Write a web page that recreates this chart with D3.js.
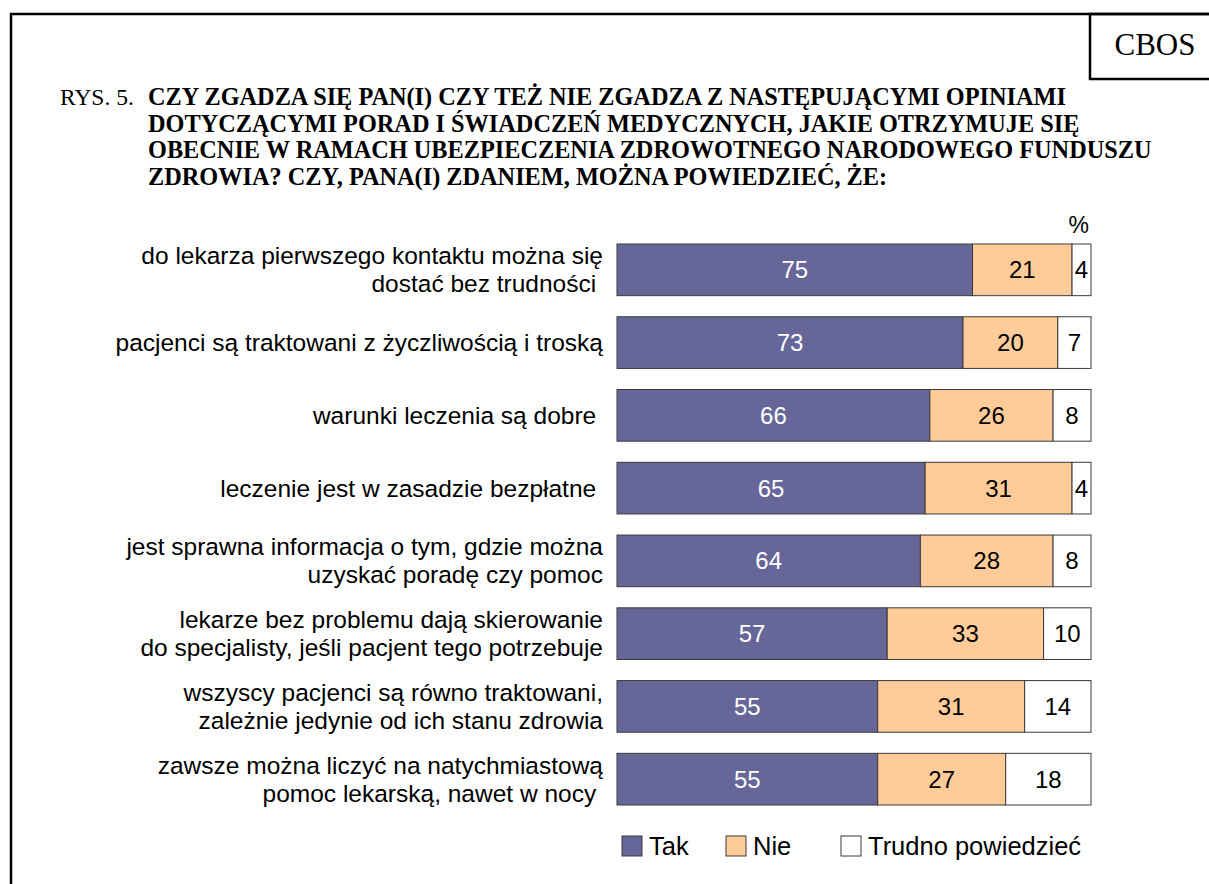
<!DOCTYPE html>
<html>
<head>
<meta charset="utf-8">
<title>CBOS Rys. 5</title>
<script src="https://cdn.jsdelivr.net/npm/d3@7"></script>
<style>
  body { margin: 0; background: #fff; }
  text { white-space: pre; }
</style>
</head>
<body>
<svg id="svg"></svg>
<script>
var WIDTH = 1209, HEIGHT = 884;

// data
var statements = [
  ["do lekarza pierwszego kontaktu można się", "dostać bez trudności "],
  ["pacjenci są traktowani z życzliwością i troską"],
  ["warunki leczenia są dobre "],
  ["leczenie jest w zasadzie bezpłatne "],
  ["jest sprawna informacja o tym, gdzie można", "uzyskać poradę czy pomoc"],
  ["lekarze bez problemu dają skierowanie", "do specjalisty, jeśli pacjent tego potrzebuje"],
  ["wszyscy pacjenci są równo traktowani,", "zależnie jedynie od ich stanu zdrowia"],
  ["zawsze można liczyć na natychmiastową", "pomoc lekarską, nawet w nocy "]
];
var tak = [75, 73, 66, 65, 64, 57, 55, 55];
var nie = [21, 20, 26, 31, 28, 33, 31, 27];
var trudno = [4, 7, 8, 4, 8, 10, 14, 18];
var seriesNames = ["Tak", "Nie", "Trudno powiedzieć"];
var seriesColors = ["#666699", "#FFCC99", "#FFFFFF"];
var labelColors = ["#FFFFFF", "#000000", "#000000"];

var titleNo = "RYS. 5.";
var titleLines = [
  "CZY ZGADZA SIĘ PAN(I) CZY TEŻ NIE ZGADZA Z NASTĘPUJĄCYMI OPINIAMI",
  "DOTYCZĄCYMI PORAD I ŚWIADCZEŃ MEDYCZNYCH, JAKIE OTRZYMUJE SIĘ",
  "OBECNIE W RAMACH UBEZPIECZENIA ZDROWOTNEGO NARODOWEGO FUNDUSZU",
  "ZDROWIA? CZY, PANA(I) ZDANIEM, MOŻNA POWIEDZIEĆ, ŻE:"
];

var SERIF = "Liberation Serif, Times New Roman, serif";
var SANS = "Liberation Sans, Arial, sans-serif";

var svg = d3.select("#svg").attr("width", WIDTH).attr("height", HEIGHT);

// frame (cut at right/bottom like the scan)
svg.append("rect").attr("x", 11).attr("y", 14).attr("width", 1300).attr("height", 1000)
   .attr("fill", "none").attr("stroke", "#000").attr("stroke-width", 2.5);
svg.append("rect").attr("x", 1090).attr("y", 14).attr("width", 200).attr("height", 65)
   .attr("fill", "none").attr("stroke", "#000").attr("stroke-width", 2.5);
svg.append("text").attr("x", 1155).attr("y", 55).attr("text-anchor", "middle")
   .attr("font-family", SERIF).attr("font-size", 31)
   .text("CBOS");

// title
svg.append("text").attr("x", 60).attr("y", 105)
   .attr("font-family", SERIF).attr("font-size", 23.5)
   .text(titleNo);
svg.append("g").selectAll("text").data(titleLines).enter().append("text")
   .attr("x", 148).attr("y", function(d, i){ return 105 + i * 26.5; })
   .attr("font-family", SERIF).attr("font-size", 24.3)
   .attr("font-weight", "bold")
   .text(function(d){ return d; });

// scales
var idx = d3.range(statements.length);
var xScale = d3.scaleLinear().domain([0, 100]).range([617, 1091]);
var yScale = d3.scaleBand().domain(idx).range([244, 805]).paddingInner(0.29).paddingOuter(0);

var rows = idx.map(function(i){
  var vals = [tak[i], nie[i], trudno[i]];
  var acc = 0;
  return vals.map(function(v, s){
    var seg = { row: i, s: s, v: v, x0: acc, x1: acc + v };
    acc += v;
    return seg;
  });
});

var g = svg.append("g");
var row = g.selectAll("g.row").data(rows).enter().append("g").attr("class", "row");

row.selectAll("rect").data(function(d){ return d; }).enter().append("rect")
   .attr("x", function(d){ return xScale(d.x0); })
   .attr("y", function(d){ return yScale(d.row); })
   .attr("width", function(d){ return xScale(d.x1) - xScale(d.x0); })
   .attr("height", yScale.bandwidth())
   .attr("fill", function(d){ return seriesColors[d.s]; })
   .attr("stroke", "#3a3a3a").attr("stroke-width", 1);

row.selectAll("text").data(function(d){ return d; }).enter().append("text")
   .attr("x", function(d){ return (xScale(d.x0) + xScale(d.x1)) / 2; })
   .attr("y", function(d){ return yScale(d.row) + yScale.bandwidth() / 2 + 8.5; })
   .attr("text-anchor", "middle")
   .attr("font-family", SANS).attr("font-size", 24)
   .attr("fill", function(d){ return labelColors[d.s]; })
   .text(function(d){ return d.v; });

// category labels
var lab = g.selectAll("text.cat").data(statements).enter().append("text")
   .attr("class", "cat")
   .attr("font-family", SANS).attr("font-size", 24.5)
   .attr("text-anchor", "end");
lab.selectAll("tspan").data(function(d, i){
     return d.map(function(t, k){ return { t: t, k: k, n: d.length, i: i }; });
   }).enter().append("tspan")
   .attr("x", 603)
   .attr("y", function(d){
     var c = yScale(d.i) + yScale.bandwidth() / 2 + 8.5;
     return c + (d.k - (d.n - 1) / 2) * 28;
   })
   .text(function(d){ return d.t; });

// percent sign
svg.append("text").attr("x", 1089).attr("y", 233).attr("text-anchor", "end")
   .attr("font-family", SANS).attr("font-size", 23)
   .text("%");

// legend
var legendX = [622, 726, 841];
var leg = svg.append("g").selectAll("g").data(seriesNames).enter().append("g");
leg.append("rect")
   .attr("x", function(d, i){ return legendX[i]; }).attr("y", 836)
   .attr("width", 20).attr("height", 20)
   .attr("fill", function(d, i){ return seriesColors[i]; })
   .attr("stroke", "#3a3a3a").attr("stroke-width", 1);
leg.append("text")
   .attr("x", function(d, i){ return legendX[i] + 27; }).attr("y", 855)
   .attr("font-family", SANS).attr("font-size", 25.5)
   .text(function(d){ return d; });
</script>
</body>
</html>
